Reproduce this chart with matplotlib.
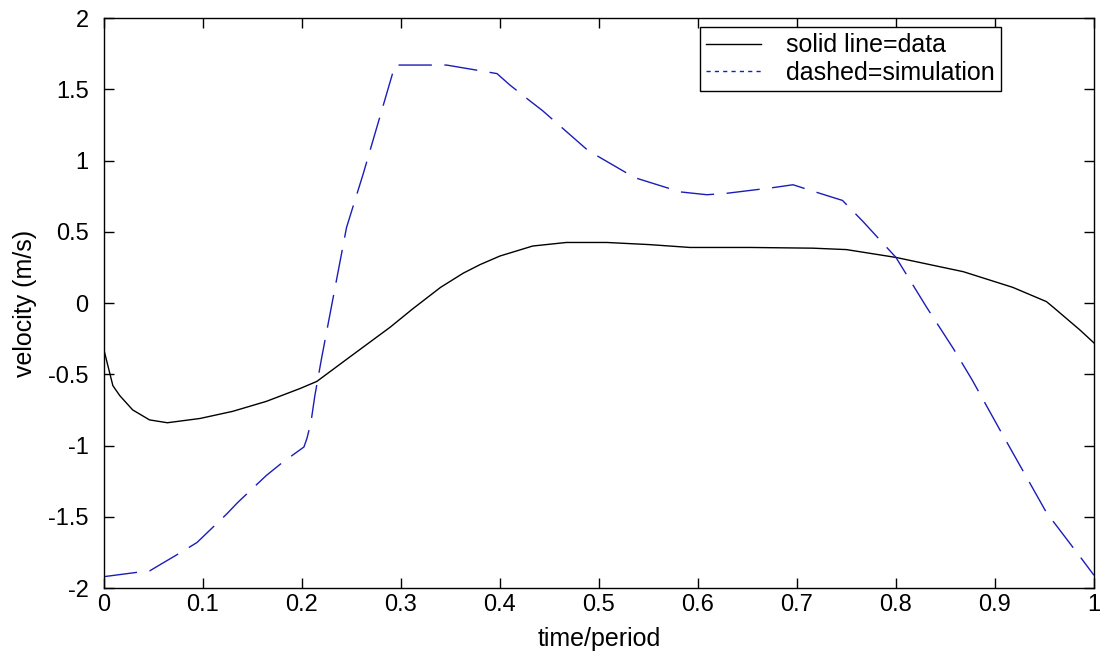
import matplotlib
matplotlib.use("Agg")
import matplotlib.pyplot as plt
from matplotlib.lines import Line2D

plt.rcParams['font.family'] = ['Liberation Sans', 'DejaVu Sans']

# measured curve (solid)
t_data = [0.0, 0.009, 0.016, 0.029, 0.046, 0.064, 0.097, 0.13, 0.164, 0.198, 0.215,
          0.248, 0.289, 0.312, 0.34, 0.363, 0.38, 0.4, 0.433, 0.467, 0.508, 0.551,
          0.592, 0.653, 0.716, 0.75, 0.8, 0.868, 0.918, 0.952, 0.959, 0.986, 1.0]
v_data = [-0.33, -0.58, -0.65, -0.75, -0.82, -0.84, -0.81, -0.76, -0.69, -0.60, -0.55,
          -0.38, -0.17, -0.04, 0.11, 0.21, 0.27, 0.33, 0.40, 0.425, 0.425, 0.41,
          0.39, 0.39, 0.385, 0.375, 0.32, 0.22, 0.11, 0.01, -0.03, -0.19, -0.28]

# simulation curve (dashed)
t_sim = [0.0, 0.033, 0.046, 0.08, 0.094, 0.124, 0.135, 0.164, 0.18, 0.202, 0.205,
         0.209, 0.213, 0.22, 0.245, 0.262, 0.294, 0.346, 0.397, 0.41, 0.43, 0.443,
         0.489, 0.536, 0.582, 0.609, 0.629, 0.676, 0.696, 0.723, 0.746, 0.767, 0.8,
         0.831, 0.858, 0.877, 0.905, 0.952, 0.986, 1.0]
v_sim = [-1.92, -1.89, -1.88, -1.74, -1.68, -1.48, -1.40, -1.21, -1.12, -1.01, -0.95,
         -0.84, -0.65, -0.38, 0.53, 0.91, 1.67, 1.67, 1.61, 1.53, 1.42, 1.35,
         1.07, 0.88, 0.78, 0.76, 0.77, 0.81, 0.83, 0.77, 0.72, 0.57, 0.32,
         -0.03, -0.32, -0.54, -0.89, -1.47, -1.78, -1.91]

blue = '#1c1cb8'

fig = plt.figure(figsize=(11.05, 6.6), dpi=100)
ax = fig.add_axes([0.0941, 0.109, 0.8959, 0.8637])

ax.plot(t_data, v_data, color='black', lw=1.0)
ax.plot(t_sim, v_sim, color=blue, lw=1.0, linestyle=(0, (24, 9)))

ax.set_xlim(0, 1)
ax.set_ylim(-2, 2)
ax.set_xticks([0, 0.1, 0.2, 0.3, 0.4, 0.5, 0.6, 0.7, 0.8, 0.9, 1])
ax.set_xticklabels(['0', '0.1', '0.2', '0.3', '0.4', '0.5', '0.6', '0.7', '0.8', '0.9', '1'])
ax.set_yticks([-2, -1.5, -1, -0.5, 0, 0.5, 1, 1.5, 2])
ax.set_yticklabels(['-2', '-1.5', '-1', '-0.5', '0', '0.5', '1', '1.5', '2'])
ax.tick_params(direction='in', length=7, width=1, top=True, right=True,
               labelsize=17)
ax.tick_params(axis='y', pad=11)
ax.tick_params(axis='x', pad=4)
for s in ax.spines.values():
    s.set_linewidth(1.0)

ax.set_xlabel('time/period', fontsize=18)
ax.set_ylabel('velocity (m/s)', fontsize=18)
ax.xaxis.set_label_coords(0.5, -0.068)
ax.yaxis.set_label_coords(-0.068, 0.5)

handles = [Line2D([], [], color='black', lw=1.0),
           Line2D([], [], color=blue, lw=1.0, linestyle=(0, (3, 3)))]
leg = ax.legend(handles, ['solid line=data', 'dashed=simulation'],
                loc='upper right', bbox_to_anchor=(0.906, 0.984), fontsize=18,
                frameon=True, fancybox=False, edgecolor='black', framealpha=1,
                handlelength=2.2, handletextpad=1.0, borderpad=0.25,
                labelspacing=0.15, borderaxespad=0)
leg.get_frame().set_linewidth(1.0)

fig.savefig('out.png', dpi=100)
